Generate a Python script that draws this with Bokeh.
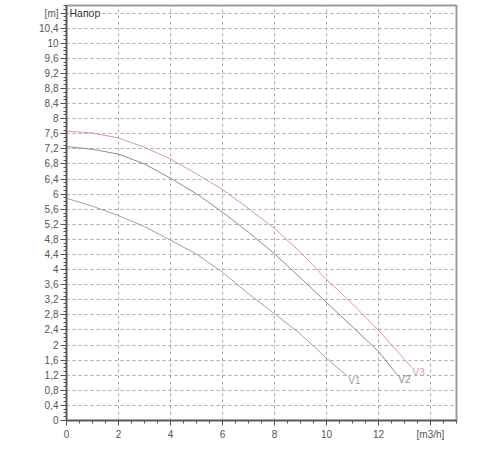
from bokeh.plotting import figure
from bokeh.models import FixedTicker, CustomJSTickFormatter, Label, ColumnDataSource, Range1d
from bokeh.core.properties import value
from bokeh.embed import file_html
from bokeh.resources import INLINE

# Data (flow Q in m3/h, head H in m)
q_v1 = [0, 1, 2, 3, 4, 5, 6, 7, 8, 9, 10, 10.8]
h_v1 = [5.89, 5.68, 5.43, 5.14, 4.78, 4.41, 3.93, 3.36, 2.83, 2.29, 1.65, 1.18]

q_v2 = [0, 1, 2, 3, 4, 5, 6, 7, 8, 9, 10, 11, 12, 12.72]
h_v2 = [7.26, 7.19, 7.06, 6.80, 6.42, 6.01, 5.52, 4.99, 4.42, 3.78, 3.13, 2.48, 1.83, 1.21]

q_v3 = [0, 1, 2, 3, 4, 5, 6, 7, 8, 9, 10, 11, 12, 13, 13.27]
h_v3 = [7.67, 7.62, 7.49, 7.24, 6.93, 6.54, 6.12, 5.62, 5.09, 4.46, 3.74, 3.09, 2.39, 1.62, 1.40]

curve_names = ["V1", "V2", "V3"]
curve_colors = ["#a09ea4", "#928597", "#d497a8"]

x_major = [0, 2, 4, 6, 8, 10, 12, 14]
x_minor = [i * 0.5 for i in range(0, 31)]
y_major = [round(i * 0.4, 1) for i in range(0, 28)]
y_minor = [round(i * 0.1, 1) for i in range(0, 111)]

title_text = "Напор"
x_unit = "[m3/h]"
y_unit = "[m]"

FONT = "Liberation Sans"

p = figure(width=492, height=442, output_backend="svg", toolbar_location=None,
           x_range=Range1d(0, 15), y_range=Range1d(0, 11),
           min_border_left=66, min_border_right=36, min_border_top=5, min_border_bottom=20)
p.background_fill_color = "white"
p.border_fill_color = "white"
p.outline_line_color = "#9a9a9a"
p.outline_line_width = 2

p.xaxis.ticker = FixedTicker(ticks=x_major, minor_ticks=x_minor)
p.yaxis.ticker = FixedTicker(ticks=y_major, minor_ticks=y_minor)

p.xaxis.formatter = CustomJSTickFormatter(args=dict(unit=x_unit), code="""
if (Math.abs(tick - 14) < 1e-6) return unit;
return String(Math.round(tick));
""")
p.yaxis.formatter = CustomJSTickFormatter(args=dict(unit=y_unit), code="""
if (Math.abs(tick - 10.8) < 1e-6) return unit;
var v = Math.round(tick * 10) / 10;
return String(v).replace('.', ',');
""")

for ax in (p.xaxis[0], p.yaxis[0]):
    ax.axis_line_color = "#555555"
    ax.axis_line_width = 1.5
    ax.major_tick_line_color = "#555555"
    ax.minor_tick_line_color = "#555555"
    ax.major_tick_in = 0
    ax.minor_tick_in = 0
    ax.major_label_text_font = FONT
    ax.major_label_text_font_size = "10px"
    ax.major_label_text_color = "#555555"
p.yaxis.major_tick_out = 6
p.yaxis.minor_tick_out = 3
p.yaxis.major_label_standoff = 2
p.xaxis.major_tick_out = 5
p.xaxis.minor_tick_out = 3
p.xaxis.major_label_standoff = 3

p.xgrid.ticker = FixedTicker(ticks=x_major)
p.ygrid.ticker = FixedTicker(ticks=y_major)
for g in (p.xgrid[0], p.ygrid[0]):
    g.grid_line_color = "#a8a8a8"
    g.grid_line_dash = "3 3"
    g.grid_line_width = 1

series = [(q_v1, h_v1), (q_v2, h_v2), (q_v3, h_v3)]
for (qs, hs), c in zip(series, curve_colors):
    p.line(qs, hs, line_color=c, line_width=1)

lab_src = ColumnDataSource(dict(
    x=[s[0][-1] for s in series],
    y=[s[1][-1] for s in series],
    t=curve_names,
    c=curve_colors,
))
p.text(x="x", y="y", text="t", text_color="c", source=lab_src,
       text_font=value(FONT), text_font_size="10px",
       text_baseline="top", text_align="left", x_offset=1, y_offset=-1)

title = Label(x=0, y=10.8, text=title_text, x_offset=3, text_baseline="middle",
              text_font=FONT, text_font_size="10.5px", text_color="#333333",
              background_fill_color="white")
p.add_layout(title)

open("out.html", "w").write(file_html(p, INLINE))
